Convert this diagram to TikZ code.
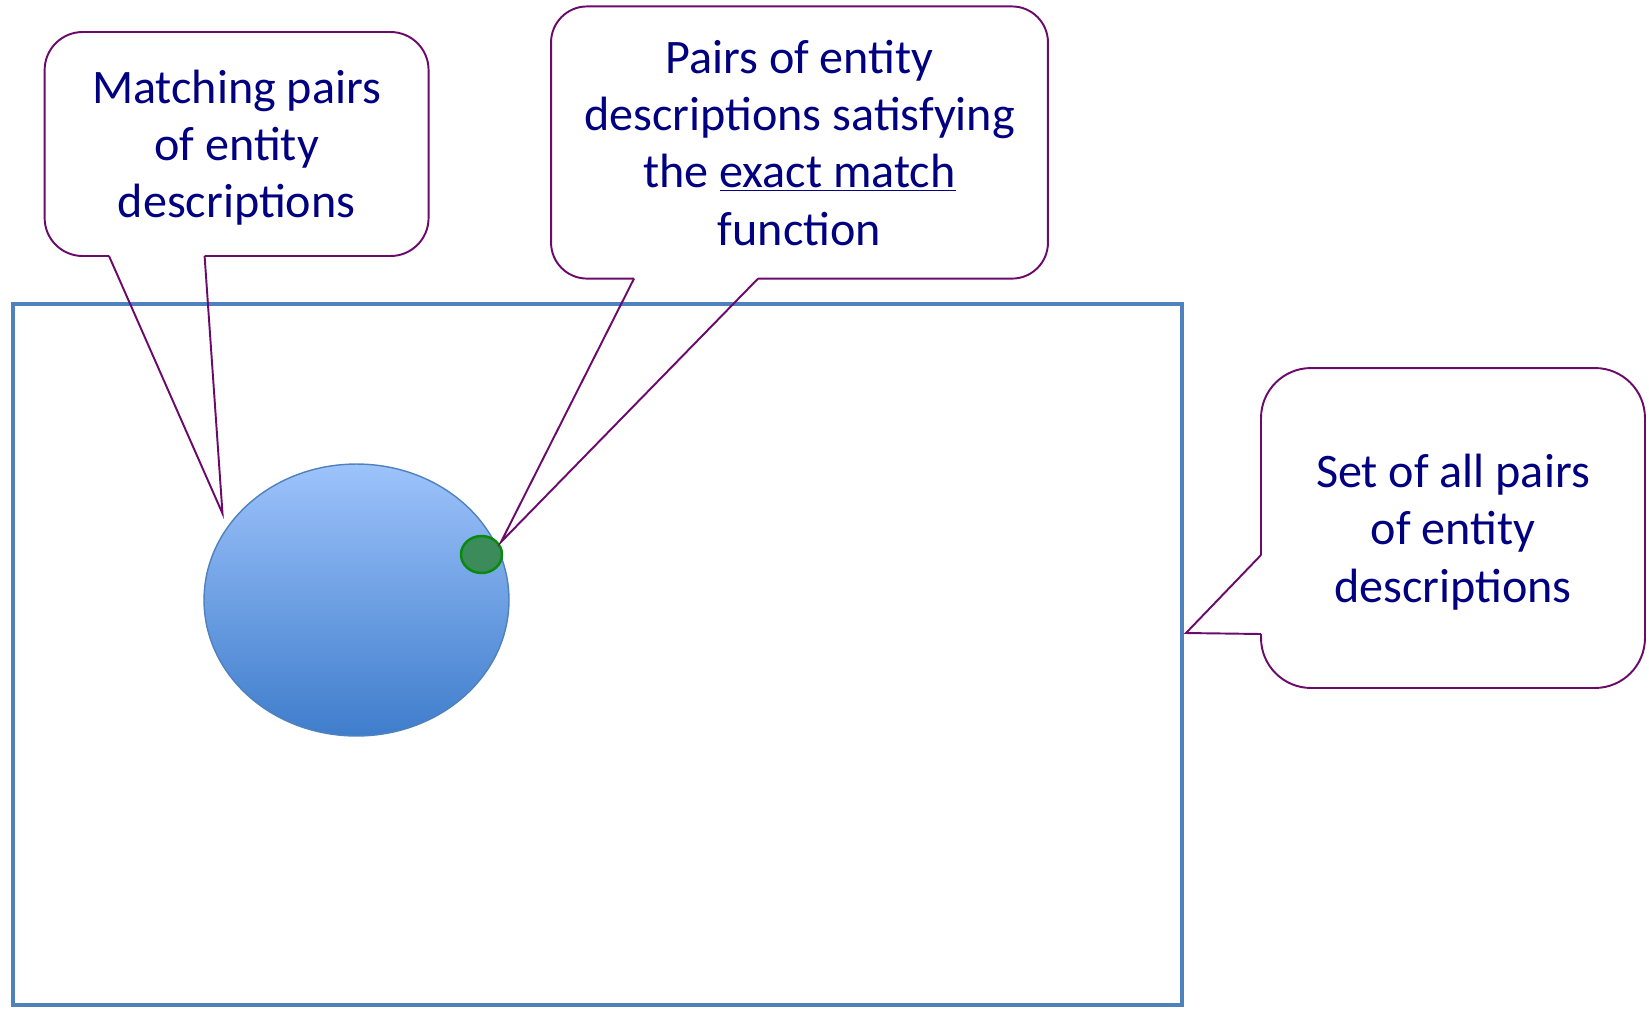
\documentclass[tikz,border=0pt]{standalone}
\usepackage{fontspec}
\setmainfont{Carlito}
\usetikzlibrary{shapes.geometric}
\definecolor{cblue}{HTML}{4F81BD}
\definecolor{cpurple}{HTML}{6B0A6B}
\definecolor{cnavy}{HTML}{000080}
\definecolor{cgreen}{HTML}{0A8A0A}
\definecolor{lightblue}{HTML}{9DC3FB}
\definecolor{darkblue}{HTML}{3F7DCC}
\definecolor{darkgreen}{HTML}{3B8B5B}

\begin{document}
\begin{tikzpicture}[x=0.02cm, y=-0.02cm,
  balloon/.style={inner sep=0pt, outer sep=0pt, align=center, text depth=0pt, text=cnavy, font=\fontsize{27.4}{32.6}\selectfont},
  bline/.style={draw=cpurple, line width=1.1pt},
  blob/.style={ellipse, inner sep=0pt, outer sep=0pt}
]
  \useasboundingbox (0,0) rectangle (1649,1008);

  % all pairs and the two subsets
  \node[draw=cblue, line width=2pt, inner sep=0pt, outer sep=0pt, minimum width=23.38cm, minimum height=14.02cm] (allset) at (597.5,654.5) {};
  \node[blob, draw=cblue, line width=0.8pt, top color=lightblue, bottom color=darkblue, minimum width=6.1cm, minimum height=5.44cm] (matchset) at (356.5,600) {};
  \node[blob, draw=cgreen, line width=1.4pt, fill=darkgreen, minimum width=0.82cm, minimum height=0.74cm] (exactset) at (481.5,554.5) {};

  % callout texts
  \node[balloon, minimum width=7.68cm, minimum height=4.48cm] (matchnote) at (236.6,144) {Matching pairs\\of entity\\descriptions};
  \node[balloon, minimum width=9.94cm, minimum height=5.444cm] (exactnote) at (799.5,142.5) {Pairs of entity\\descriptions satisfying\\the \underline{exact match}\\function};
  \node[balloon, minimum width=7.68cm, minimum height=6.4cm] (allnote) at (1453,528) {Set of all pairs\\of entity\\descriptions};

  \coordinate (m1) at (109,256);
  \coordinate (m2) at (204.6,256);
  \coordinate (mtip) at (222.5,513.5);
  \coordinate (e1) at (634,278.6);
  \coordinate (e2) at (758,278.6);
  \coordinate (etip) at (501,542);
  \coordinate (a1) at (1261,555);
  \coordinate (a2) at (1261,634);
  \coordinate (atip) at (1186,633);

  % balloon outlines
  \draw[bline, rounded corners=0.76cm] (m2) -| (matchnote.north east) -| (matchnote.south west) -- (m1);
  \draw[bline, rounded corners=0.72cm] (e2) -| (exactnote.north east) -| (exactnote.south west) -- (e1);
  \draw[bline, rounded corners=1cm] (a1) |- (allnote.north east) |- (allnote.south west) -- (a2);

  % pointers
  \draw[bline] (m1) -- (mtip) -- (m2);
  \draw[bline] (e1) -- (etip) -- (e2);
  \draw[bline] (a1) -- (atip) -- (a2);
\end{tikzpicture}
\end{document}
